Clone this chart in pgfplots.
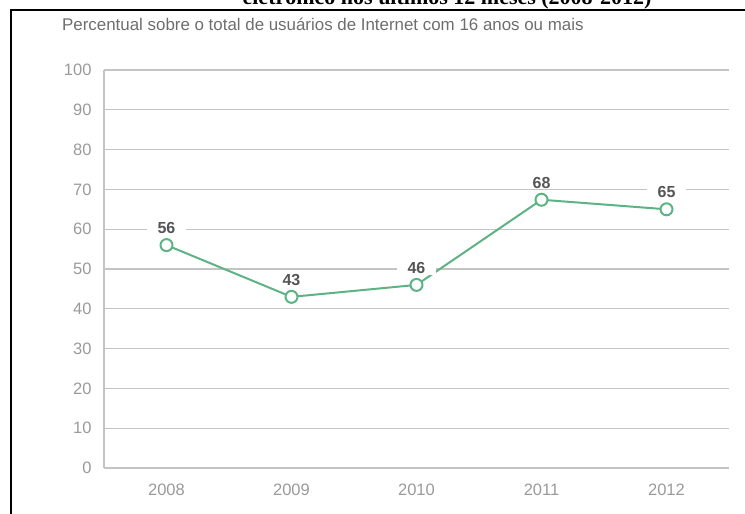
\documentclass[border=0pt]{standalone}
\usepackage{fontspec}
\setmainfont{Liberation Sans}
\newfontfamily\titlefont{Liberation Serif}
\usepackage{pgfplots}
\usepackage{pgfplotstable}
\pgfplotsset{compat=1.18}
\definecolor{lgreen}{HTML}{5DB383}
\definecolor{gridgray}{HTML}{C4C4C4}
\definecolor{ticktext}{HTML}{9A9A9A}
\definecolor{labeltext}{HTML}{555555}
\definecolor{subtext}{HTML}{6E6E6E}
\pgfplotstableread{
x y lab
0 56 56
1 43 43
2 46 46
3 67.4 68
4 65 65
}\datatable
\begin{document}
\begin{tikzpicture}[x=1pt,y=1pt]
\useasboundingbox (0,0) rectangle (745,514);
\draw[line width=2pt] (11,0) -- (11,504) -- (745,504);
\node[anchor=base, font=\titlefont\bfseries\fontsize{22}{26}\selectfont, inner sep=0] at (447,509) {eletrônico nos últimos 12 meses (2008-2012)};
\node[anchor=base west, text=subtext, font=\fontsize{16.9}{18}\selectfont, inner sep=0] at (62,483) {Percentual sobre o total de usuários de Internet com 16 anos ou mais};
\begin{axis}[
  at={(104pt,46pt)}, anchor=south west,
  scale only axis, width=625pt, height=398pt,
  xmin=-0.5, xmax=4.5, ymin=0, ymax=100,
  xtick={0,1,2,3,4},
  xticklabels={2008,2009,2010,2011,2012},
  extra x ticks={0.5,1.5,2.5,3.5,4.5},
  extra x tick labels={},
  extra x tick style={major tick length=8pt, tick style={draw=gridgray, line width=1.2pt}, tick align=inside},
  major x tick style={draw=none},
  ytick={0,10,...,100},
  major y tick style={draw=none},
  ymajorgrids,
  grid style={draw=gridgray, line width=1.2pt},
  axis x line*=bottom, axis y line*=left,
  axis line style={draw=gridgray, line width=1.2pt, -},
  tick label style={text=ticktext, font=\fontsize{16.5}{18}\selectfont},
  yticklabel style={xshift=-9pt},
  xticklabel style={yshift=-12pt},
  /pgf/number format/assume math mode=true,
  clip=false,
]
\addplot[color=lgreen, line width=2pt, mark=*, mark size=6pt,
  mark options={fill=white, draw=lgreen, line width=2pt},
  nodes near coords, point meta=explicit symbolic,
  every node near coord/.style={font=\bfseries\fontsize{16}{18}\selectfont, text=labeltext, fill=white, inner xsep=11pt, inner ysep=1pt, anchor=center, yshift=17pt}]
  table[x=x, y=y, meta=lab] {\datatable};
\end{axis}
\end{tikzpicture}
\end{document}
